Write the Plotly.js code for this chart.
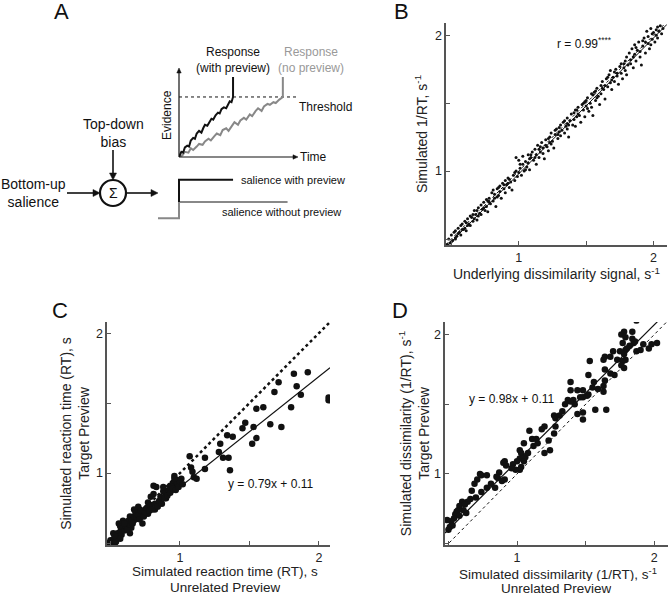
<!DOCTYPE html>
<html><head><meta charset="utf-8">
<script src="https://cdn.plot.ly/plotly-3.0.1.min.js"></script>
<style>html,body{margin:0;padding:0;background:#fff}#chart{width:669px;height:595px}</style>
</head><body><div id="chart"></div>
<script>
// ---------- Panel A: schematic evidence accumulation ----------
const evTimeWith = [0,0.02,0.035,0.05,0.07,0.085,0.10,0.12,0.135,0.15,0.17,0.19,0.205,0.22,0.24,0.26,0.275,0.29,0.31,0.33,0.345,0.36,0.38,0.40,0.415,0.43,0.445,0.458,0.458];
const evWith     = [0,0.06,0.05,0.11,0.13,0.12,0.19,0.22,0.21,0.27,0.30,0.28,0.33,0.37,0.36,0.40,0.44,0.43,0.48,0.51,0.50,0.55,0.57,0.56,0.61,0.64,0.63,0.69,0.92];
const evTimeNo   = [0,0.03,0.05,0.08,0.10,0.12,0.15,0.17,0.20,0.22,0.25,0.27,0.30,0.32,0.35,0.37,0.40,0.42,0.45,0.47,0.50,0.52,0.55,0.57,0.60,0.62,0.65,0.67,0.70,0.72,0.75,0.77,0.80,0.82,0.85,0.88,0.88];
const evNo       = [0,0.02,0.06,0.05,0.10,0.08,0.12,0.15,0.14,0.18,0.21,0.19,0.24,0.27,0.25,0.31,0.33,0.30,0.36,0.40,0.37,0.42,0.45,0.43,0.49,0.47,0.53,0.56,0.53,0.58,0.61,0.60,0.63,0.62,0.66,0.69,0.92];
const thresholdTime = [0, 1];
const thresholdLevel = [0.69, 0.69];
const salTimeWith = [0, 0, 0.458];
const salWith     = [0.42, 1, 1];
const salTimeNo   = [-0.178, 0, 0, 0.92];
const salNo       = [0, 0, 0.42, 0.42];

// ---------- Panel B ----------
const B_x = [0.47,0.48,0.49,0.50,0.51,0.52,0.53,0.53,0.54,0.55,
0.56,0.57,0.57,0.58,0.59,0.60,0.60,0.61,0.62,0.63,
0.64,0.64,0.65,0.66,0.67,0.67,0.68,0.69,0.70,0.71,
0.72,0.72,0.73,0.74,0.75,0.76,0.76,0.77,0.78,0.79,
0.80,0.81,0.81,0.82,0.83,0.84,0.85,0.86,0.86,0.87,
0.88,0.89,0.90,0.90,0.91,0.92,0.93,0.94,0.95,0.96,
0.97,0.98,0.98,0.99,1.00,1.01,1.02,1.03,1.03,1.04,
1.05,1.06,1.07,1.07,1.08,1.09,1.10,1.11,1.12,1.13,
1.13,1.14,1.15,1.16,1.17,1.18,1.18,1.19,1.20,1.21,
1.22,1.23,1.24,1.24,1.25,1.26,1.27,1.28,1.29,1.30,
1.31,1.31,1.32,1.33,1.34,1.35,1.36,1.36,1.37,1.38,
1.39,1.40,1.41,1.42,1.42,1.43,1.44,1.45,1.46,1.47,
1.48,1.49,1.49,1.50,1.51,1.52,1.53,1.54,1.54,1.55,
1.56,1.57,1.58,1.59,1.60,1.61,1.61,1.62,1.63,1.64,
1.65,1.66,1.67,1.68,1.68,1.69,1.70,1.71,1.72,1.73,
1.74,1.75,1.76,1.77,1.78,1.79,1.80,1.80,1.81,1.82,
1.83,1.84,1.85,1.86,1.86,1.87,1.88,1.89,1.90,1.91,
1.92,1.93,1.94,1.95,1.96,1.96,1.97,1.98,1.99,2.00,
2.01,2.02,2.03,2.03,2.04,2.05,2.06,2.07,
0.50,0.55,0.58,0.62,0.66,0.70,0.74,0.78,0.82,0.85,
0.89,0.93,0.97,1.01,1.05,1.09,1.12,1.16,1.20,1.23,
1.27,1.30,1.34,1.37,1.41,1.44,1.48,1.51,1.55,1.58,
1.62,1.66,1.69,1.73,1.76,1.79,1.83,1.87,1.90,1.94,
1.98,2.02,0.53,0.61,0.69,0.77,0.84,0.92,1.00,1.08,
1.15,1.22,1.29,1.36,1.43,1.50,1.57,1.64,1.71,1.78,
1.85,1.92,1.99];
const B_y = [0.46,0.50,0.47,0.53,0.49,0.55,0.51,0.56,0.52,0.58,
0.55,0.60,0.53,0.61,0.57,0.63,0.58,0.56,0.65,0.61,
0.67,0.60,0.66,0.63,0.71,0.65,0.68,0.64,0.73,0.69,
0.75,0.68,0.72,0.77,0.71,0.79,0.74,0.70,0.80,0.76,
0.84,0.78,0.86,0.80,0.74,0.87,0.82,0.89,0.85,0.80,
0.91,0.87,0.93,0.84,0.90,0.95,0.88,0.92,0.86,0.97,
0.93,1.00,1.10,0.96,1.08,1.02,0.97,1.05,1.11,1.00,
1.07,1.03,1.12,1.06,1.01,1.10,1.14,1.08,1.16,1.05,
1.12,1.19,1.10,1.14,1.21,1.13,1.17,1.09,1.23,1.18,
1.15,1.25,1.20,1.28,1.22,1.17,1.27,1.31,1.24,1.29,
1.34,1.26,1.30,1.36,1.28,1.33,1.39,1.31,1.25,1.37,
1.42,1.34,1.38,1.45,1.33,1.40,1.47,1.41,1.36,1.49,
1.45,1.51,1.40,1.48,1.54,1.44,1.50,1.57,1.47,1.41,
1.58,1.52,1.61,1.55,1.49,1.63,1.57,1.66,1.60,1.53,
1.68,1.62,1.71,1.65,1.74,1.60,1.69,1.66,1.75,1.70,
1.64,1.77,1.72,1.68,1.79,1.74,1.84,1.71,1.78,1.87,
1.82,1.90,1.76,1.86,1.93,1.81,1.89,1.95,1.84,1.78,
1.92,1.98,1.87,2.03,1.94,1.99,1.90,2.05,1.97,2.02,
1.95,2.00,2.06,1.98,2.03,2.07,2.01,2.05,
0.48,0.54,0.57,0.60,0.68,0.67,0.73,0.77,0.83,0.88,
0.90,0.94,0.99,1.05,1.01,1.12,1.10,1.18,1.19,1.21,
1.30,1.32,1.37,1.34,1.43,1.42,1.50,1.46,1.56,1.54,
1.61,1.69,1.67,1.72,1.79,1.81,1.79,1.91,1.88,1.95,
1.93,2.04,0.50,0.62,0.71,0.78,0.81,0.91,0.99,1.09,
1.16,1.24,1.27,1.35,1.45,1.52,1.59,1.63,1.73,1.76,
1.84,1.96,2.01];
const B_fit = [1.0, -0.02];      // slope, intercept (solid)
const B_lineX = [0.46, 2.1];

// ---------- Panel C ----------
const C_x = [2.07,2.07,1.92,1.82,1.84,1.87,1.80,1.71,1.68,1.60,
1.55,1.65,1.73,1.47,1.45,1.53,1.55,1.52,1.34,1.38,
1.29,1.28,1.31,1.35,1.36,1.18,1.18,1.07,1.08,1.09,
1.10,1.12,1.01,0.96,0.98,0.95,0.93,0.98,0.94,0.90,
0.88,0.83,0.81,0.81,0.90,0.82,0.77,0.75,0.73,0.71,
0.68,0.64,0.73,0.70,0.59,0.56,0.64,0.64,0.58,0.55,
0.52,0.50,0.51,0.53,0.50,0.57,0.67,0.61,0.65,0.77,
0.49,0.50,0.52,0.53,0.54,0.55,0.56,0.57,0.58,0.59,
0.60,0.61,0.62,0.63,0.64,0.65,0.66,0.67,0.68,0.69,
0.70,0.71,0.72,0.74,0.75,0.76,0.78,0.79,0.80,0.82,
0.84,0.85,0.86,0.87,0.89,0.91,0.92,0.93,0.95,0.97,
0.98,0.99,1.00,1.02,0.96,0.88,0.79,0.60,0.53,0.57];
const C_y = [1.52,1.54,1.72,1.71,1.62,1.56,1.47,1.65,1.58,1.47,
1.46,1.35,1.33,1.36,1.32,1.33,1.25,1.21,1.27,1.26,
1.21,1.15,1.11,1.11,1.02,1.11,1.03,1.12,1.04,1.01,
0.97,0.96,0.96,0.98,0.95,0.93,0.91,0.91,0.90,0.85,
0.87,0.90,0.91,0.85,0.82,0.74,0.79,0.74,0.71,0.74,
0.67,0.67,0.64,0.76,0.66,0.64,0.69,0.57,0.60,0.55,
0.57,0.52,0.50,0.49,0.49,0.62,0.74,0.64,0.61,0.71,
0.50,0.51,0.52,0.54,0.51,0.57,0.55,0.58,0.56,0.61,
0.59,0.62,0.60,0.66,0.63,0.66,0.64,0.69,0.72,0.68,
0.70,0.67,0.73,0.69,0.72,0.75,0.73,0.77,0.74,0.78,
0.76,0.80,0.83,0.78,0.82,0.84,0.88,0.86,0.89,0.88,
0.93,0.90,0.94,0.92,0.96,0.90,0.83,0.64,0.55,0.53];
const C_fit = [0.79, 0.11];
const C_lineX = [0.475, 2.08];

// ---------- Panel D ----------
const D_x = [1.87,1.84,1.78,1.76,1.79,1.85,1.86,1.82,1.87,1.96,
2.02,1.98,1.90,1.77,1.79,1.75,1.78,1.79,1.77,1.78,
1.70,1.68,1.64,1.63,1.64,1.71,1.76,1.53,1.52,1.56,
1.64,1.63,1.59,1.63,1.39,1.39,1.44,1.48,1.51,1.48,
1.52,1.37,1.41,1.42,1.39,1.44,1.48,1.48,1.57,1.65,
1.27,1.28,1.31,1.20,1.28,1.27,1.18,1.23,1.24,1.20,
1.09,1.11,1.14,1.05,1.02,1.03,1.06,1.02,1.00,1.05,
0.97,1.03,1.02,0.99,0.91,0.92,0.90,0.87,0.85,0.91,
0.84,0.74,0.78,0.71,0.69,0.74,0.78,0.67,0.66,0.64,
0.60,0.61,0.63,0.58,0.56,0.55,0.54,0.52,0.51,0.49,
0.57,0.73,0.86,0.89,0.96,0.81,0.70,0.62,0.53,0.50,
0.58,1.08,1.12,1.15,1.33,1.35,1.46,1.55,1.68,1.73,
1.80,1.84,1.92];
const D_y = [2.10,2.02,2.02,2.00,1.98,1.94,1.95,1.92,1.88,1.90,
1.94,1.93,1.89,1.94,1.89,1.88,1.86,1.82,1.81,1.76,
1.88,1.84,1.84,1.82,1.75,1.71,1.78,1.81,1.71,1.66,
1.67,1.63,1.61,1.59,1.66,1.60,1.60,1.60,1.56,1.55,
1.57,1.53,1.53,1.50,1.52,1.43,1.44,1.39,1.46,1.46,
1.42,1.40,1.42,1.34,1.34,1.29,1.32,1.24,1.17,1.15,
1.31,1.25,1.25,1.22,1.17,1.15,1.12,1.11,1.09,1.09,
1.07,1.05,1.03,1.03,1.09,1.06,1.08,1.01,0.98,0.96,
0.90,0.99,0.99,0.96,0.93,0.87,0.90,0.88,0.82,0.80,
0.80,0.74,0.72,0.77,0.73,0.71,0.68,0.66,0.62,0.67,
0.74,1.00,0.97,0.95,1.04,0.93,0.83,0.78,0.63,0.60,
0.70,1.15,1.20,1.22,1.45,1.50,1.55,1.62,1.72,1.82,
1.90,1.97,1.93];
const D_fit = [0.98, 0.11];
const D_lineX = [0.475, 2.1];

const tickVals = [1, 2];
const tickText = ['1', '2'];
const minorTickVals = [0.5, 1.5];

// ---------- helpers ----------
const W = 669, H = 595;
const px = v => v / W;
const py = v => 1 - v / H;
const FONT = 'Liberation Sans, Arial, Helvetica, sans-serif';
const fitY = (xs, f) => xs.map(x => f[0] * x + f[1]);

const traces = [
  // Panel A evidence
  {x: thresholdTime, y: thresholdLevel, xaxis: 'x', yaxis: 'y', mode: 'lines', line: {color: '#111', width: 1, dash: 'dot'}},
  {x: evTimeNo, y: evNo, xaxis: 'x', yaxis: 'y', mode: 'lines', line: {color: '#888', width: 2}},
  {x: evTimeWith, y: evWith, xaxis: 'x', yaxis: 'y', mode: 'lines', line: {color: '#111', width: 2}},
  // Panel A salience steps
  {x: salTimeNo, y: salNo, xaxis: 'x5', yaxis: 'y5', mode: 'lines', line: {color: '#888', width: 2}},
  {x: salTimeWith, y: salWith, xaxis: 'x5', yaxis: 'y5', mode: 'lines', line: {color: '#111', width: 2}},
  // Panel B
  {x: B_x, y: B_y, xaxis: 'x2', yaxis: 'y2', mode: 'markers', marker: {color: '#111', size: 3}},
  {x: B_lineX, y: B_lineX, xaxis: 'x2', yaxis: 'y2', mode: 'lines', line: {color: '#111', width: 1, dash: 'dot'}},
  {x: B_lineX, y: fitY(B_lineX, B_fit), xaxis: 'x2', yaxis: 'y2', mode: 'lines', line: {color: '#111', width: 1}},
  // Panel C
  {x: C_lineX, y: C_lineX, xaxis: 'x3', yaxis: 'y3', mode: 'lines', line: {color: '#111', width: 2.5, dash: 'dot'}},
  {x: C_lineX, y: fitY(C_lineX, C_fit), xaxis: 'x3', yaxis: 'y3', mode: 'lines', line: {color: '#111', width: 1.2}},
  {x: C_x, y: C_y, xaxis: 'x3', yaxis: 'y3', mode: 'markers', marker: {color: '#111', size: 6.5}},
  // Panel D
  {x: D_lineX, y: D_lineX, xaxis: 'x4', yaxis: 'y4', mode: 'lines', line: {color: '#111', width: 1, dash: 'dot'}},
  {x: D_lineX, y: fitY(D_lineX, D_fit), xaxis: 'x4', yaxis: 'y4', mode: 'lines', line: {color: '#111', width: 1.2}},
  {x: D_x, y: D_y, xaxis: 'x4', yaxis: 'y4', mode: 'markers', marker: {color: '#111', size: 6.5}}
];

function sciAxis(domain, range, anchor, title, standoff) {
  const ax = {
    domain: domain, range: range, anchor: anchor,
    showline: true, linecolor: '#555', linewidth: 1.6,
    ticks: 'inside', ticklen: 4, tickwidth: 1, tickcolor: '#555',
    tickmode: 'array', tickvals: tickVals, ticktext: tickText,
    minor: {tickmode: 'array', tickvals: minorTickVals, ticks: 'inside', ticklen: 4, tickwidth: 1, tickcolor: '#555', showgrid: false},
    tickfont: {family: FONT, size: 12.5, color: '#222'},
    showgrid: false, zeroline: false, automargin: false
  };
  if (title) ax.title = {text: title, font: {family: FONT, size: 14, color: '#222'}, standoff: standoff};
  return ax;
}
const hidden = (domain, range, anchor) => ({domain, range, anchor, visible: false, fixedrange: true});

const ann = [];
function txt(x, y, text, opts) {
  ann.push(Object.assign({x: x, y: y, xref: 'paper', yref: 'paper', text: text, showarrow: false,
    font: {family: FONT, size: 12, color: '#111'}, xanchor: 'center', yanchor: 'middle'}, opts || {}));
}
// panel letters
txt(px(61), py(11), 'A', {font: {family: FONT, size: 22, color: '#111'}});
txt(px(401), py(11), 'B', {font: {family: FONT, size: 22, color: '#111'}});
txt(px(60), py(310), 'C', {font: {family: FONT, size: 22, color: '#111'}});
txt(px(400), py(310), 'D', {font: {family: FONT, size: 22, color: '#111'}});
// panel A texts
txt(px(113), py(133), 'Top-down<br>bias', {font: {family: FONT, size: 14, color: '#111'}});
txt(px(33), py(193), 'Bottom-up<br>salience', {font: {family: FONT, size: 14, color: '#111'}});
txt(px(113), py(193), 'Σ', {font: {family: FONT, size: 14, color: '#111'}});
txt(px(239), py(180), 'salience with preview', {xanchor: 'left', font: {family: FONT, size: 11, color: '#111'}});
txt(px(220), py(212), 'salience without preview', {xanchor: 'left', font: {family: FONT, size: 11, color: '#111'}});
txt(px(233), py(60), 'Response<br>(with preview)', {font: {family: FONT, size: 12, color: '#111'}});
txt(px(311), py(60), 'Response<br>(no preview)', {font: {family: FONT, size: 12, color: '#999'}});
txt(px(298), py(157), 'Time', {xanchor: 'left'});
txt(px(297), py(107), 'Threshold', {xanchor: 'left'});
txt(px(167), py(115), 'Evidence', {textangle: -90});
// x-axis titles of C and D (two lines, each its own compact text)
const titleFont = {family: FONT, size: 13.5, color: '#222'};
txt(px(225), py(571.5), 'Simulated reaction time (RT), s', {font: titleFont, height: 15});
txt(px(225), py(587), 'Unrelated Preview', {font: titleFont, height: 15});
txt(px(558), py(573), 'Simulated dissimilarity (1/RT), s<sup>-1</sup>', {font: titleFont, height: 15});
txt(px(556), py(588), 'Unrelated Preview', {font: titleFont, height: 15});
// stats
ann.push({x: 1.49, y: 1.94, xref: 'x2', yref: 'y2', text: 'r = 0.99<sup>****</sup>', showarrow: false, font: {family: FONT, size: 12, color: '#111'}});
ann.push({x: 1.65, y: 0.92, xref: 'x3', yref: 'y3', text: 'y = 0.79x + 0.11', showarrow: false, font: {family: FONT, size: 12, color: '#111'}});
ann.push({x: 0.96, y: 1.54, xref: 'x4', yref: 'y4', text: 'y = 0.98x + 0.11', showarrow: false, font: {family: FONT, size: 12, color: '#111'}});

// arrows as shapes (line + filled head), paper coordinates
const shapes = [
  {type: 'circle', xref: 'paper', yref: 'paper', x0: px(100), x1: px(126), y0: py(206), y1: py(180), line: {color: '#111', width: 2.2}}
];
function arrowShape(x0, y0, x1, y1, len, half, w) {
  const dx = x1 - x0, dy = y1 - y0, L = Math.hypot(dx, dy);
  const ux = dx / L, uy = dy / L;
  const bx = x1 - ux * len, by = y1 - uy * len;
  shapes.push({type: 'line', xref: 'paper', yref: 'paper', x0: px(x0), y0: py(y0), x1: px(bx), y1: py(by), line: {color: '#111', width: w}});
  const p1 = [bx - uy * half, by + ux * half], p2 = [bx + uy * half, by - ux * half];
  shapes.push({type: 'path', xref: 'paper', yref: 'paper',
    path: `M ${px(x1)},${py(y1)} L ${px(p1[0])},${py(p1[1])} L ${px(p2[0])},${py(p2[1])} Z`,
    fillcolor: '#111', line: {color: '#111', width: 0.5}});
}
arrowShape(113, 150, 113, 180, 7, 3.5, 1.6);   // top-down bias
arrowShape(67, 193, 100, 193, 7, 3.5, 1.6);    // bottom-up salience
arrowShape(127, 193, 158, 193, 7, 3.5, 1.6);   // output
arrowShape(179, 157, 179, 68, 5, 2.2, 1.2);    // evidence axis
arrowShape(179, 157, 298, 157, 5, 2.2, 1.2);   // time axis

const layout = {
  width: W, height: H, margin: {l: 0, r: 0, t: 0, b: 0},
  paper_bgcolor: '#fff', plot_bgcolor: 'rgba(0,0,0,0)', showlegend: false,
  font: {family: FONT, color: '#111'},
  xaxis: hidden([px(179), px(297)], [0, 1], 'y'),
  yaxis: hidden([py(157), py(70)], [0, 1], 'x'),
  xaxis5: hidden([px(158), px(297)], [-0.178, 1], 'y5'),
  yaxis5: hidden([py(222), py(172)], [-0.1, 1.2], 'x5'),
  xaxis2: sciAxis([px(446), px(667)], [0.46, 2.1], 'y2', 'Underlying dissimilarity signal, s<sup>-1</sup>', 3),
  yaxis2: sciAxis([py(245), py(23)], [0.456, 2.09], 'x2', 'Simulated 1/RT, s<sup>-1</sup>', 4),
  xaxis3: sciAxis([px(107), px(330)], [0.475, 2.08], 'y3', null, 0),
  yaxis3: sciAxis([py(545), py(322)], [0.486, 2.08], 'x3', 'Simulated reaction time (RT), s<br>Target Preview', 3),
  xaxis4: sciAxis([px(445), px(668)], [0.475, 2.1], 'y4', null, 0),
  yaxis4: sciAxis([py(545), py(322)], [0.49, 2.09], 'x4', 'Simulated dissimilarity (1/RT), s<sup>-1</sup><br>Target Preview', 1),
  shapes: shapes,
  annotations: ann
};

Plotly.newPlot('chart', traces.map(t => Object.assign({showlegend: false, hoverinfo: 'skip'}, t)), layout, {staticPlot: true});
</script></body></html>
